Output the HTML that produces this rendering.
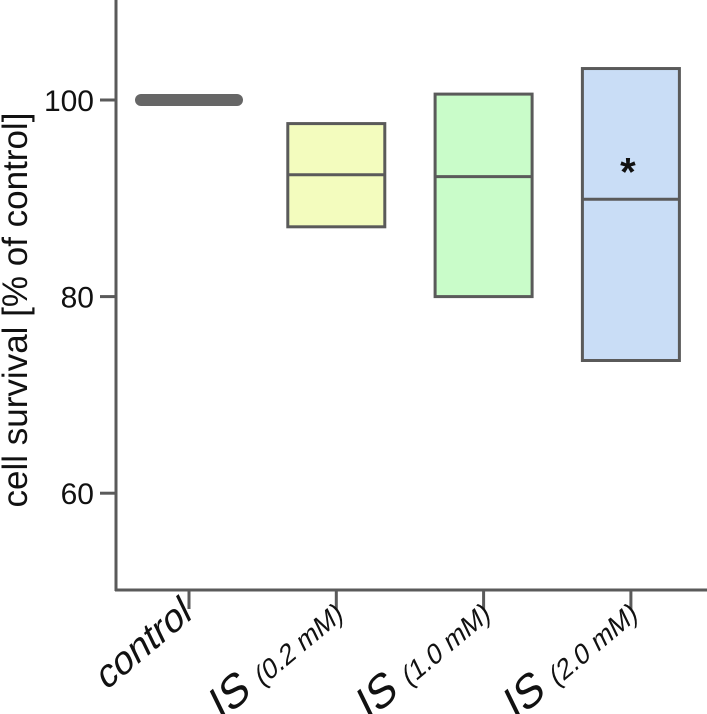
<!DOCTYPE html>
<html><head><meta charset="utf-8"><style>
html,body{margin:0;padding:0;background:#fff;}
svg{display:block;font-family:"Liberation Sans",Arial,sans-serif;}
</style></head><body>
<svg id="chart" width="707" height="714" viewBox="0 0 707 714"></svg>
<script>
const categories = ["control", "0.2 mM", "1.0 mM", "2.0 mM"];
const boxTop = [100, 97.6, 100.6, 103.2];
const boxMedian = [100, 92.4, 92.2, 89.9];
const boxBottom = [100, 87.1, 80.0, 73.5];
const boxColors = ["#666666", "#f3fcbe", "#c9fcc9", "#c9ddf6"];
const yTicks = [60, 80, 100];
const significant = [false, false, false, true];

const NS = "http://www.w3.org/2000/svg";
const svg = document.getElementById("chart");
function y(v){ return 100 + (100 - v) * 9.83; }
function x(i){ return 189 + i * 147.3; }
function el(tag, attrs, parent){
  const e = document.createElementNS(NS, tag);
  for (const k in attrs) e.setAttribute(k, attrs[k]);
  (parent || svg).appendChild(e);
  return e;
}
const stroke = "#5a5a5a";

let a = el("line", {x1:116, y1:0, x2:116, y2:591, stroke:stroke, "stroke-width":3});


a = el("line", {x1:115, y1:590, x2:707, y2:590, stroke:stroke, "stroke-width":3});



yTicks.forEach(v => {
  const t = el("line", {x1:100, y1:y(v), x2:116, y2:y(v), stroke:stroke, "stroke-width":3});
  
  
  const l = el("text", {x:94, y:y(v)+11, "text-anchor":"end", "font-size":30, fill:"#111"});
  l.textContent = v;
  
  
});

const yt = el("text", {x:0, y:0, transform:"translate(27,310) rotate(-90)", "text-anchor":"middle", "font-size":35, fill:"#111"});
yt.textContent = "cell survival [% of control]";



categories.forEach((c, i) => {
  const cx = x(i);
  const t = el("line", {x1:cx, y1:590, x2:cx, y2:609, stroke:stroke, "stroke-width":3});
  
  
  const lab = el("text", {x:0, y:0, transform:`translate(${i===0?cx+4:cx+8},${i===0?618:618}) rotate(-40) skewX(-14)`, "text-anchor":"end", fill:"#111"});
  
  
  if (i === 0) {
    lab.setAttribute("font-size", 38);
    lab.textContent = c;
  } else {
    const s1 = el("tspan", {"font-size":44}, lab); s1.textContent = "IS ";
    const s2 = el("tspan", {"font-size":27}, lab); s2.textContent = "(" + c + ")";
  }
  if (i === 0) {
    const m = el("line", {x1:cx-48, y1:y(boxMedian[i]), x2:cx+48, y2:y(boxMedian[i]), stroke:boxColors[i], "stroke-width":12, "stroke-linecap":"round"});
    
    
  } else {
    const w = 97;
    const b = el("rect", {x:cx-w/2, y:y(boxTop[i]), width:w, height:y(boxBottom[i])-y(boxTop[i]), fill:boxColors[i], stroke:stroke, "stroke-width":3});
    
    
    const m = el("line", {x1:cx-w/2, y1:y(boxMedian[i]), x2:cx+w/2, y2:y(boxMedian[i]), stroke:stroke, "stroke-width":3});
    
    
  }
  if (significant[i]) {
    const s = el("text", {x:cx-3, y:y(boxMedian[i])-14, "text-anchor":"middle", "font-size":40, "font-weight":"bold", fill:"#111"});
    s.textContent = "*";
    
    
  }
});
</script>
</body></html>
